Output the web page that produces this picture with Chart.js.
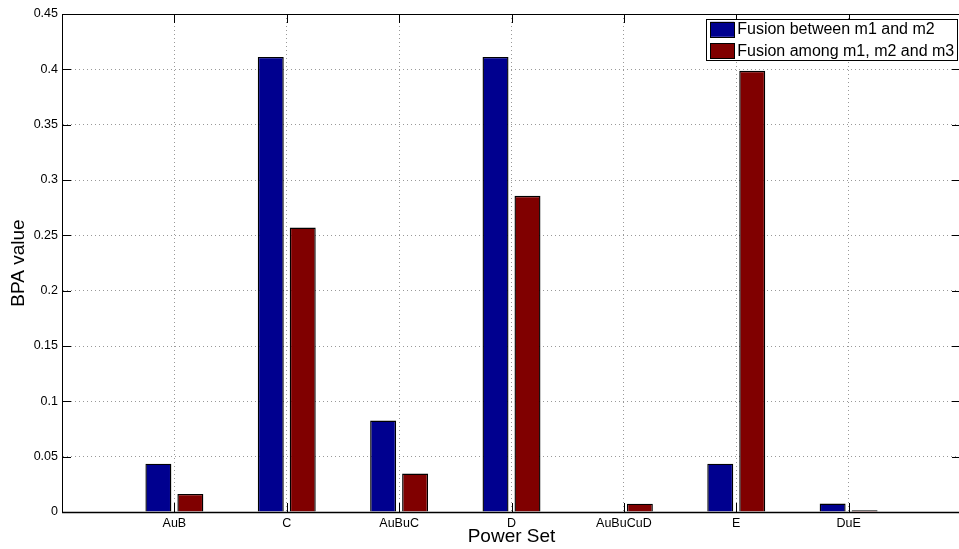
<!DOCTYPE html>
<html><head><meta charset="utf-8">
<script src="https://cdn.jsdelivr.net/npm/chart.js@4/dist/chart.umd.min.js"></script>
<style>
html,body{margin:0;padding:0;background:#fff;overflow:hidden}
#wrap{width:959px;height:549px;overflow:hidden;position:relative;background:#fff}
#box{width:965px;height:549px;position:absolute;left:0;top:0}
</style></head><body>
<div id="wrap"><div id="box"><canvas id="c"></canvas></div></div>
<script>
// ---- data ----
const categories = ['AuB', 'C', 'AuBuC', 'D', 'AuBuCuD', 'E', 'DuE'];
const seriesNames = ['Fusion between m1 and m2', 'Fusion among m1, m2 and m3'];
const fusionM1M2 = [0.0437, 0.4112, 0.0826, 0.4112, 0, 0.0437, 0.0076];
const fusionM1M2M3 = [0.0163, 0.2571, 0.0347, 0.2857, 0.0075, 0.3987, 0.0015];
const yMin = 0, yMax = 0.45, yStep = 0.05;
const xTitle = 'Power Set';
const yTitle = 'BPA value';

// category axis runs 0..8 with the categories at 1..7 (empty slots at the ends)
const labels = [''].concat(categories, ['']);
const pad = arr => [null].concat(arr, [null]);

const FONT = "'Liberation Sans', Arial, Helvetica, sans-serif";
const colors = ['#00008f', '#800000'];

const framePlugin = {
  id: 'frame',
  afterDraw(chart) {
    const {ctx, chartArea: a, scales: {x, y}} = chart;
    ctx.save();
    ctx.strokeStyle = '#000';
    ctx.lineWidth = 1;
    ctx.setLineDash([]);
    const TL = 9;
    ctx.beginPath();
    for (let i = 0; i < x.ticks.length; i++) {
      const px = Math.round(x.getPixelForTick(i)) + 0.5;
      ctx.moveTo(px, a.bottom); ctx.lineTo(px, a.bottom - TL);
      ctx.moveTo(px, a.top); ctx.lineTo(px, a.top + TL);
    }
    for (let i = 0; i < y.ticks.length; i++) {
      const py = Math.round(y.getPixelForTick(i)) + 0.5;
      ctx.moveTo(a.left, py); ctx.lineTo(a.left + TL, py);
      ctx.moveTo(a.right, py); ctx.lineTo(a.right - TL, py);
    }
    ctx.stroke();
    ctx.strokeRect(Math.round(a.left) + 0.5, Math.round(a.top) + 0.5,
                   Math.round(a.right - a.left), Math.round(a.bottom - a.top));
    ctx.lineWidth = 1.6;
    ctx.beginPath();
    ctx.moveTo(a.left, Math.round(a.bottom) + 0.5);
    ctx.lineTo(a.right, Math.round(a.bottom) + 0.5);
    ctx.stroke();

    // legend box (top-right inside the plot)
    ctx.font = '16px ' + FONT;
    const ds = chart.data.datasets;
    let tw = 0;
    ds.forEach(d => { tw = Math.max(tw, ctx.measureText(d.label).width); });
    const right = a.right - 4.3;
    const top = a.top + 5;
    const w = 4 + 24 + 3 + tw + 3;
    const h = 41;
    const left = right - w;
    ctx.fillStyle = '#fff';
    ctx.fillRect(left, top, w, h);
    ctx.lineWidth = 1;
    ctx.strokeStyle = '#000';
    ctx.strokeRect(Math.round(left) + 0.5, Math.round(top) + 0.5, Math.round(w), h);
    ds.forEach((d, i) => {
      const cy = top + 10.3 + i * 21.5;
      ctx.fillStyle = d.backgroundColor;
      ctx.fillRect(left + 4.5, cy - 7.5, 24, 15);
      ctx.strokeStyle = '#000';
      ctx.strokeRect(Math.round(left + 4.5) + 0.5, Math.round(cy - 7.5) + 0.5, 24, 15);
      ctx.fillStyle = '#000';
      ctx.textBaseline = 'middle';
      ctx.textAlign = 'left';
      ctx.fillText(d.label, left + 4.5 + 24 + 3, cy + 0.5);
    });
    ctx.restore();
  }
};

new Chart(document.getElementById('c'), {
  type: 'bar',
  data: {
    labels: labels,
    datasets: [
      {label: seriesNames[0], data: pad(fusionM1M2), backgroundColor: colors[0], borderColor: '#000', borderWidth: 1.4, borderSkipped: 'bottom'},
      {label: seriesNames[1], data: pad(fusionM1M2M3), backgroundColor: colors[1], borderColor: '#000', borderWidth: 1.4, borderSkipped: 'bottom'}
    ]
  },
  options: {
    responsive: true,
    maintainAspectRatio: false,
    animation: false,
    devicePixelRatio: 1,
    layout: {padding: {left: 0, top: 14, right: 3, bottom: 0}},
    datasets: {bar: {categoryPercentage: 0.569, barPercentage: 0.8125}},
    plugins: {legend: {display: false}, tooltip: {enabled: false}},
    scales: {
      x: {
        type: 'category',
        offset: false,
        grid: {display: true, offset: false, color: '#999', lineWidth: 1, drawTicks: false},
        border: {display: true, color: '#000', width: 1, dash: [1, 3]},
        ticks: {autoSkip: false, maxRotation: 0, minRotation: 0, padding: 4, color: '#000', font: {family: FONT, size: 12.5}},
        title: {display: true, text: xTitle, color: '#000', font: {family: FONT, size: 19}, padding: {top: 0, bottom: 0.5}},
        afterFit(s) { s.height = 37; }
      },
      y: {
        type: 'linear',
        min: yMin, max: yMax,
        grid: {display: true, color: '#999', lineWidth: 1, drawTicks: false},
        border: {display: true, color: '#000', width: 1, dash: [1, 3]},
        ticks: {stepSize: yStep, padding: 4, color: '#000', font: {family: FONT, size: 12.5},
          callback: v => String(parseFloat(Number(v).toFixed(2)))},
        title: {display: true, text: yTitle, color: '#000', font: {family: FONT, size: 19}, padding: {top: 7, bottom: 0}},
        afterFit(s) { s.width = 62; }
      }
    }
  },
  plugins: [framePlugin]
});
</script>
</body></html>
